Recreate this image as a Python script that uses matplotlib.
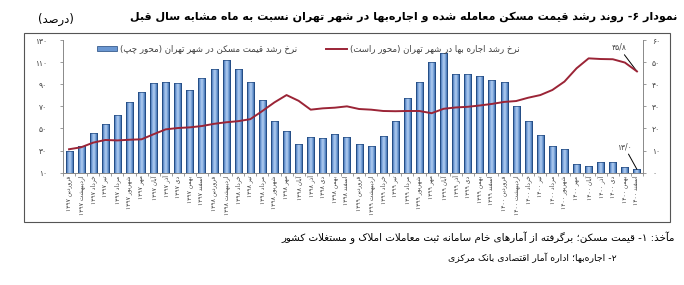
import re
import numpy as np
import matplotlib
matplotlib.use("Agg")
import matplotlib.pyplot as plt
from matplotlib.colors import LinearSegmentedColormap
from matplotlib.patches import Rectangle, Patch
from matplotlib.lines import Line2D

plt.rcParams['font.family'] = ['DejaVu Sans']

# --- data ---
months = ['فروردین', 'اردیبهشت', 'خرداد', 'تیر', 'مرداد', 'شهریور',
          'مهر', 'آبان', 'آذر', 'دی', 'بهمن', 'اسفند']
years = [1397, 1398, 1399, 1400]

# house price growth (left axis, %)
price = [30, 34, 46, 54, 62, 74, 83, 91, 92, 91, 85, 96,
         104, 112, 104, 92, 76, 57, 48, 36, 42, 41, 45, 42,
         36, 34, 43, 57, 78, 92, 110, 118, 99, 99, 97, 94,
         92, 70, 57, 44, 34, 31, 17.5, 16.5, 20, 19.5, 15.5, 13]

# rent growth (right axis, %)
rent = [10.6, 11.5, 13.6, 14.8, 14.6, 14.9, 15.1, 17.4, 19.6, 20.2, 20.5, 21.1,
        22.1, 22.8, 23.3, 24.2, 27.9, 31.8, 35.1, 32.5, 28.5, 29.1, 29.4, 30.0,
        28.8, 28.5, 27.9, 27.8, 27.9, 27.9, 26.9, 28.9, 29.5, 29.8, 30.4, 31.1,
        32.0, 32.4, 33.9, 35.1, 37.4, 41.2, 47.2, 51.7, 51.4, 51.3, 49.8, 45.8]

left_ticks = [10, 30, 50, 70, 90, 110, 130]
right_ticks = [0, 10, 20, 30, 40, 50, 60]

title = 'نمودار ۶- روند رشد قیمت مسکن معامله شده و اجاره\u200cبها در شهر تهران نسبت به ماه مشابه سال قبل'
unit = '(درصد)'
lbl_price = 'نرخ رشد قیمت مسکن در شهر تهران (محور چپ)'
lbl_rent = 'نرخ رشد اجاره بها در شهر تهران (محور راست)'
note1 = 'مآخذ: ۱- قیمت مسکن؛ برگرفته از آمارهای خام سامانه ثبت معاملات املاک و مستغلات کشور'
note2 = '۲- اجاره\u200cبها؛ اداره آمار اقتصادی بانک مرکزی'

# --- persian text helpers (no shaping engine in matplotlib) ---
DUAL = {'ب': 0xFE8F, 'ت': 0xFE95, 'ث': 0xFE99, 'ج': 0xFE9D, 'ح': 0xFEA1,
        'خ': 0xFEA5, 'س': 0xFEB1, 'ش': 0xFEB5, 'ص': 0xFEB9, 'ض': 0xFEBD,
        'ط': 0xFEC1, 'ظ': 0xFEC5, 'ع': 0xFEC9, 'غ': 0xFECD, 'ف': 0xFED1,
        'ق': 0xFED5, 'ل': 0xFEDD, 'م': 0xFEE1, 'ن': 0xFEE5, 'ه': 0xFEE9,
        'ی': 0xFBFC, 'ک': 0xFB8E, 'گ': 0xFB92, 'پ': 0xFB56, 'چ': 0xFB7A}
RIGHT = {'ا': 0xFE8D, 'آ': 0xFE81, 'د': 0xFEA9, 'ذ': 0xFEAB, 'ر': 0xFEAD,
         'ز': 0xFEAF, 'و': 0xFEED, 'ژ': 0xFB8A}
LAM_ALEF = {'ا': 0xFEFB, 'آ': 0xFEF5}
FA_DIGITS = str.maketrans('0123456789', '۰۱۲۳۴۵۶۷۸۹')


def shape(s):
    s = s.replace('ي', 'ی').replace('ك', 'ک')
    out = []
    i = 0
    while i < len(s):
        c = s[i]
        link_prev = i > 0 and s[i - 1] in DUAL
        nxt = s[i + 1] if i + 1 < len(s) else ''
        if c == 'ل' and nxt in LAM_ALEF:
            out.append(chr(LAM_ALEF[nxt] + (1 if link_prev else 0)))
            i += 2
            continue
        if c in DUAL:
            link_next = nxt in DUAL or nxt in RIGHT
            k = {(True, True): 3, (True, False): 1,
                 (False, True): 2, (False, False): 0}[(link_prev, link_next)]
            out.append(chr(DUAL[c] + k))
        elif c in RIGHT:
            out.append(chr(RIGHT[c] + (1 if link_prev else 0)))
        elif c != '\u200c':
            out.append(c)
        i += 1
    return ''.join(out)


def rtl(s):
    v = shape(s)[::-1]
    v = re.sub(r'[0-9۰-۹]+(?:[/.][0-9۰-۹]+)*', lambda m: m.group(0)[::-1], v)
    return v.translate(str.maketrans('()', ')('))


def fa(v):
    return str(v).replace('.', '/').translate(FA_DIGITS)


labels = [rtl(m + ' ' + fa(y)) for y in years for m in months]
x = np.arange(len(price))

# --- figure ---
fig = plt.figure(figsize=(6.84, 2.85), dpi=100)
ax = fig.add_axes([63 / 684, 112.3 / 285, 580 / 684, 132.7 / 285])
ax2 = ax.twinx()

axis_c = '#8c8c8c'
txt_c = '#404040'

# bars with a cylinder-like gradient
cmap = LinearSegmentedColormap.from_list(
    'cyl', ['#22508f', '#7aa4dc', '#b4cff1', '#6a97d2', '#24528f'])
grad = np.linspace(0, 1, 64).reshape(1, -1)
base = left_ticks[0]
bars = ax.bar(x, np.array(price) - base, bottom=base, width=0.58,
              facecolor='none', edgecolor='#1f467c', linewidth=0.5, zorder=3)
for b in bars:
    x0, y0 = b.get_x(), b.get_y()
    im = ax.imshow(grad, cmap=cmap, aspect='auto', zorder=2,
                   extent=(x0, x0 + b.get_width(), y0, y0 + b.get_height()))
    im.set_clip_path(b)

ax.set_xlim(-0.5, len(price) - 0.5)
ax.set_ylim(left_ticks[0], left_ticks[-1])
ax.set_yticks(left_ticks)
ax.set_yticklabels([fa(v) for v in left_ticks])
ax.set_xticks(x)
ax.set_xticklabels(labels, rotation=90, fontsize=4.3, color=txt_c)
ax.set_xticks(np.arange(len(price) + 1) - 0.5, minor=True)
ax.tick_params(axis='x', which='major', length=0, pad=2)
ax.tick_params(axis='x', which='minor', length=2.5, color=axis_c, width=0.6)
ax.tick_params(axis='y', length=2.5, color=axis_c, width=0.6, pad=9,
               labelsize=5.5, labelcolor=txt_c)

# rent line on right axis
ax2.plot(x, rent, color='#9b2436', linewidth=1.4, zorder=4)
ax2.set_ylim(right_ticks[0], right_ticks[-1])
ax2.set_yticks(right_ticks)
ax2.set_yticklabels([fa(v) for v in right_ticks])
ax2.tick_params(axis='y', length=2.5, color=axis_c, width=0.6, pad=4,
                labelsize=5.5, labelcolor=txt_c)

for a in (ax, ax2):
    a.spines['top'].set_visible(False)
    for s in ('left', 'right', 'bottom'):
        a.spines[s].set_color(axis_c)
        a.spines[s].set_linewidth(0.7)

# end-point annotations
ax2.annotate(fa(rent[-1]), xy=(x[-1], rent[-1]), xytext=(-13, 14),
             textcoords='offset points', ha='center', va='bottom',
             fontsize=5.5, color=txt_c,
             arrowprops=dict(arrowstyle='-', color='black', lw=0.7,
                             shrinkA=0, shrinkB=0))
ax.annotate(fa(f'{price[-1]:.1f}'), xy=(x[-1], price[-1]), xytext=(-9, 13),
            textcoords='offset points', ha='center', va='bottom',
            fontsize=5.5, color=txt_c,
            arrowprops=dict(arrowstyle='-', color='black', lw=0.7,
                            shrinkA=0, shrinkB=0))

# legend
handles = [Patch(facecolor='#6a97d2', edgecolor='#1f467c', linewidth=0.5),
           Line2D([], [], color='#9b2436', linewidth=1.4)]
ax2.legend(handles, [rtl(lbl_price), rtl(lbl_rent)], ncol=2, frameon=False,
           loc='center left', bbox_to_anchor=(0.058, 0.932),
           borderpad=0, borderaxespad=0, handlelength=2.4, handleheight=0.6,
           handletextpad=0.3, columnspacing=3.4,
           prop={'size': 6.2}, labelcolor=txt_c)

# frame around chart
fig.patches.append(Rectangle((24 / 684, 1 - 222 / 285), 646 / 684, 189 / 285,
                             transform=fig.transFigure, fill=False,
                             edgecolor='#555555', linewidth=0.8))


def fit_text(xf, yf, s, width_px, **kw):
    # size the text so its rendered width matches the reference
    t = fig.text(xf, yf, s, **kw)
    w = t.get_window_extent(renderer=fig.canvas.get_renderer()).width
    t.set_fontsize(t.get_fontsize() * width_px / w)
    return t


fit_text(0.991, 1 - 17 / 285, rtl(title), 552, ha='right', va='center',
         fontsize=10, fontweight='bold', color='black')
fit_text(0.082, 1 - 19 / 285, rtl(unit), 36, ha='center', va='center',
         fontsize=8, color='black')
fit_text(0.987, 1 - 238 / 285, rtl(note1), 392, ha='right', va='center',
         fontsize=8, color='black')
fit_text(0.902, 1 - 258 / 285, rtl(note2), 167, ha='right', va='center',
         fontsize=8, color='black')

fig.savefig('out.png', dpi=100)
